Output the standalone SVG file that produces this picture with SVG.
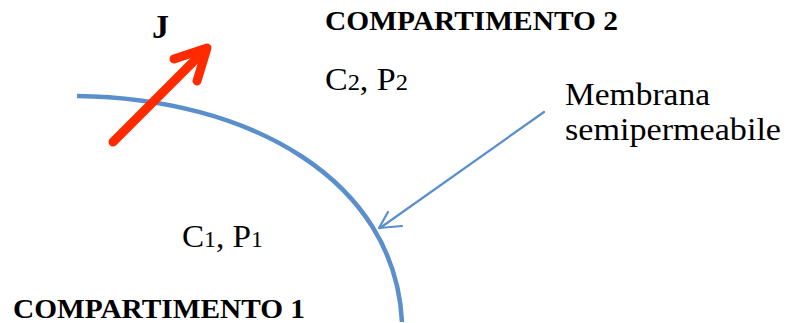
<svg xmlns="http://www.w3.org/2000/svg" width="787" height="323" viewBox="0 0 787 323">
<style>
.t{font-family:"Liberation Serif","DejaVu Serif",serif;fill:#000}
.b{font-weight:bold}
.mem{fill:none;stroke:#5B8FCB;stroke-width:4.5}
.lead{fill:none;stroke:#5B8FCB;stroke-width:2.2;stroke-linecap:round;stroke-linejoin:round}
.flux{fill:none;stroke:#FF2A00;stroke-width:9;stroke-linecap:round;stroke-linejoin:round}
</style>
<rect width="787" height="323" fill="#fff"/>
<g id="membrane">
<path class="mem" d="M77,96 C250,98 395,180 402,322"/>
</g>
<g id="connectors">
<path class="flux" d="M113,142 L205,50"/>
<path class="flux" d="M174,59 L207,48 L197,81"/>
<path class="lead" d="M544,112 L380,228"/>
<path class="lead" d="M388,212 L379,228 L402,226"/>
</g>
<g id="label-J"><text class="t b" x="152" y="38" font-size="34">J</text></g>
<g id="compartimento2"><text class="t b" x="325" y="30" font-size="28" textLength="293" lengthAdjust="spacingAndGlyphs">COMPARTIMENTO 2</text></g>
<g id="compartimento1"><text class="t b" x="13" y="318" font-size="28" textLength="292" lengthAdjust="spacingAndGlyphs">COMPARTIMENTO 1</text></g>
<g id="c2p2"><text class="t" x="325" y="90" font-size="32" textLength="83" lengthAdjust="spacingAndGlyphs">C<tspan font-size="23">2</tspan>, P<tspan font-size="23">2</tspan></text></g>
<g id="c1p1"><text class="t" x="182" y="247" font-size="32" textLength="81" lengthAdjust="spacingAndGlyphs">C<tspan font-size="23">1</tspan>, P<tspan font-size="23">1</tspan></text></g>
<g id="membrana-label">
<text class="t" x="565" y="105" font-size="32" textLength="145" lengthAdjust="spacingAndGlyphs">Membrana</text>
<text class="t" x="565" y="140" font-size="32" textLength="216" lengthAdjust="spacingAndGlyphs">semipermeabile</text>
</g>
</svg>
